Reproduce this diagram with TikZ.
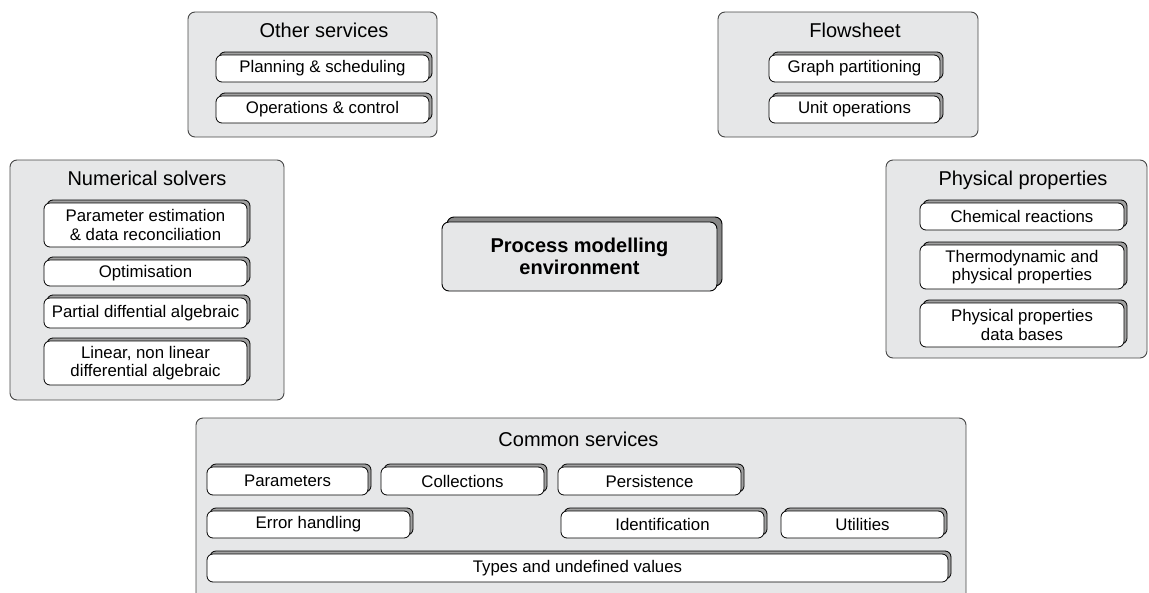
\documentclass[tikz,border=0pt]{standalone}
\usepackage{fontspec}
\setmainfont{Liberation Sans}
\definecolor{groupfill}{RGB}{230,231,232}
\definecolor{groupline}{RGB}{70,70,70}
\definecolor{itemshade}{RGB}{160,160,160}
\definecolor{pmeshade}{RGB}{135,135,135}
\tikzset{
  group/.style={draw=groupline, line width=0.9pt, fill=groupfill, rounded corners=7pt, inner sep=0pt},
  item/.style={draw=black, line width=0.8pt, fill=white, rounded corners=6pt, inner sep=0pt, align=center,
    font=\fontsize{16.8}{18.5}\selectfont},
  itemshadow/.style={draw=black, line width=0.8pt, fill=itemshade, rounded corners=6pt, inner sep=0pt},
  title/.style={inner sep=0pt, anchor=base, font=\fontsize{20}{22}\selectfont},
  pme/.style={draw=black, line width=0.9pt, fill=groupfill, rounded corners=7pt, inner sep=0pt, align=center,
    font=\fontsize{20}{22}\selectfont\bfseries},
  pmeshadow/.style={draw=black, line width=0.9pt, fill=pmeshade, rounded corners=7pt, inner sep=0pt}
}
\newcommand\itembox[6]{%
  \node[itemshadow, minimum width=#4pt, minimum height=#5pt] (#1-s) at (#2+3,#3-3) {};
  \node[item, minimum width=#4pt, minimum height=#5pt] (#1) at (#2,#3) {#6};}
\newcommand\groupbox[5]{%
  \node[group, minimum width=#4pt, minimum height=#5pt] (#1) at (#2,#3) {};}
\begin{document}
\begin{tikzpicture}[x=1pt,y=-1pt]
\useasboundingbox (0,0) rectangle (1149,592);
\clip (0,0) rectangle (1149,592);
% Other services
\groupbox{other}{312.5}{74.5}{249}{125}
\node[title] (other-t) at (324,37.5) {Other services};
\itembox{plan}{322.5}{68.5}{213}{27}{Planning \& scheduling}
\itembox{oper}{322.5}{109.5}{213}{27}{Operations \& control}
% Flowsheet
\groupbox{flow}{848}{74.5}{260}{125}
\node[title] (flow-t) at (855,37.5) {Flowsheet};
\itembox{graph}{854.5}{68.5}{171}{27}{Graph partitioning}
\itembox{unit}{854.5}{109.5}{171}{27}{Unit operations}
% Numerical solvers
\groupbox{num}{147}{280}{274}{240}
\node[title] (num-t) at (147,185.5) {Numerical solvers};
\itembox{param}{145.5}{225}{203}{44}{Parameter estimation\\\& data reconciliation}
\itembox{optim}{145.5}{273}{203}{26}{Optimisation}
\itembox{partial}{145.5}{313}{203}{30}{Partial diffential algebraic}
\itembox{linear}{145.5}{363}{203}{44}{Linear, non linear\\differential algebraic}
% Physical properties
\groupbox{phys}{1016.5}{259}{261}{198}
\node[title] (phys-t) at (1023,185) {Physical properties};
\itembox{chem}{1022}{216.5}{204}{27}{Chemical reactions}
\itembox{thermo}{1022}{267}{204}{44}{Thermodynamic and\\physical properties}
\itembox{physdb}{1022}{325}{204}{44}{Physical properties\\data bases}
% Process modelling environment
\node[pmeshadow, minimum width=275pt, minimum height=69pt] (pme-s) at (584.5,251.5) {};
\node[pme, minimum width=275pt, minimum height=69pt] (pme) at (579.5,256.5) {Process modelling\\environment};
% Common services
\groupbox{common}{581}{511}{770}{186}
\node[title] (common-t) at (578.5,446.5) {Common services};
\itembox{params}{287.5}{481}{161}{28}{Parameters}
\itembox{coll}{462.5}{481}{163}{28}{Collections}
\itembox{pers}{649.5}{481}{183}{28}{Persistence}
\itembox{error}{308.5}{524.5}{203}{27}{Error handling}
\itembox{ident}{662.5}{524.5}{203}{27}{Identification}
\itembox{util}{862.5}{524.5}{163}{27}{Utilities}
\itembox{types}{577.5}{568}{741}{28}{Types and undefined values}
\end{tikzpicture}
\end{document}
